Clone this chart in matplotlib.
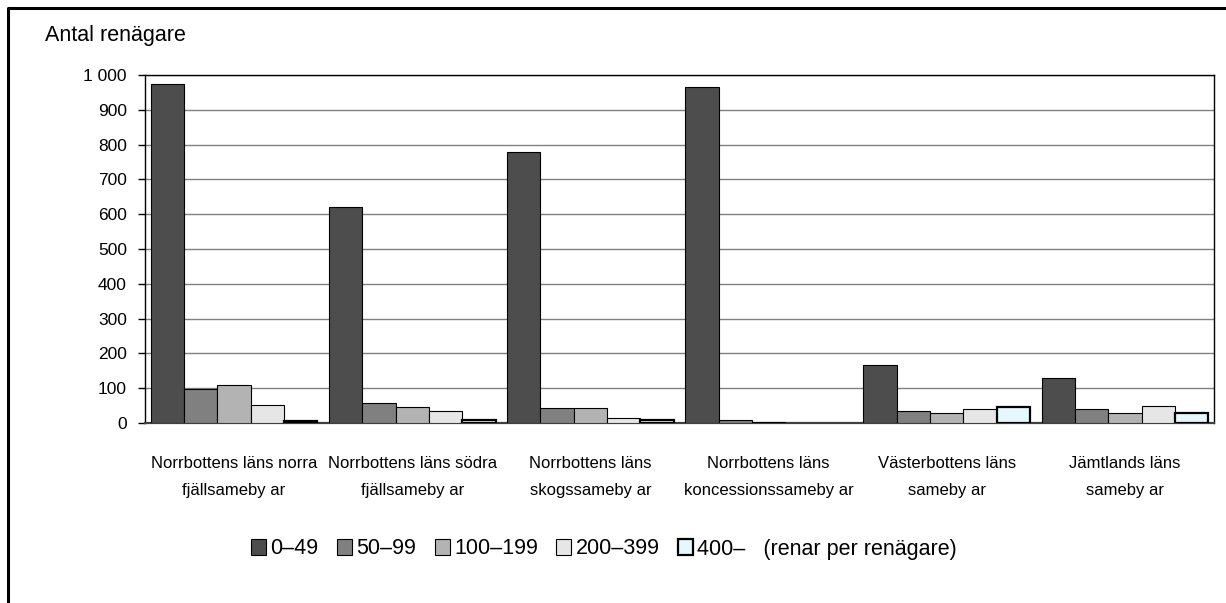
import matplotlib
matplotlib.use("Agg")
import matplotlib.pyplot as plt
from matplotlib.lines import Line2D
from matplotlib.patches import Patch
import numpy as np

# === Dati ===
categories = [
    "Norrbottens läns norra\nfjällsameby ar",
    "Norrbottens läns södra\nfjällsameby ar",
    "Norrbottens läns\nskogssameby ar",
    "Norrbottens läns\nkoncessionssameby ar",
    "Västerbottens läns\nsameby ar",
    "Jämtlands läns\nsameby ar",
]
series_labels = ["0–49", "50–99", "100–199", "200–399", "400–"]
v_0_49 = [975, 620, 780, 965, 166, 129]
v_50_99 = [99, 58, 42, 8, 34, 40]
v_100_199 = [110, 46, 42, 3, 30, 30]
v_200_399 = [52, 35, 15, 0, 40, 50]
v_400 = [5, 10, 10, 0, 45, 30]
values = [v_0_49, v_50_99, v_100_199, v_200_399, v_400]
yticks = list(range(0, 1001, 100))
ytick_labels = ["0", "100", "200", "300", "400", "500", "600", "700", "800", "900", "1 000"]

colors = ["#4d4d4d", "#808080", "#b3b3b3", "#e6e6e6", "#e3f9ff"]
edge_w = [0.8, 0.8, 0.8, 0.8, 1.6]

plt.rcParams['font.family'] = ['Liberation Sans', 'DejaVu Sans']

fig = plt.figure(figsize=(12.26, 6.03), dpi=100)
ax = fig.add_axes([145 / 1226, 1 - 423 / 603, (1214 - 145) / 1226, (423 - 75) / 603])

bw = 0.187
x = np.arange(len(categories)) + 0.5
for i, (vals, c, lw) in enumerate(zip(values, colors, edge_w)):
    lws = [lw if v > 0 else 0 for v in vals]
    ax.bar(x + (i - 2) * bw, vals, width=bw, color=c, edgecolor="black",
           linewidth=lws, label=series_labels[i], zorder=3)

ax.set_xlim(0, len(categories))
ax.set_ylim(0, 1000)
ax.set_yticks(yticks)
ax.set_yticklabels(ytick_labels, fontsize=12.5)
ax.yaxis.grid(True, color="#808080", linewidth=1, zorder=0)
ax.set_xticks(x)
ax.set_xticklabels(categories, fontsize=12, linespacing=2.0)
ax.tick_params(axis="x", length=0, pad=23.5)
ax.tick_params(axis="y", length=5, width=1, direction="out", pad=8)
for s in ["top", "right", "left"]:
    ax.spines[s].set_color("black")
    ax.spines[s].set_linewidth(1)
ax.spines["bottom"].set_color("#404040")
ax.spines["bottom"].set_linewidth(1.6)

fig.text(45 / 1226, 1 - 36 / 603, "Antal renägare", fontsize=15.5, va="center", ha="left")

# === Legenda ===
handles = [Patch(facecolor=c, edgecolor="black", linewidth=lw) for c, lw in zip(colors, edge_w)]
labels = series_labels[:-1] + [series_labels[-1] + "   (renar per renägare)"]
leg = fig.legend(handles, labels, loc="center", bbox_to_anchor=(604 / 1226, 1 - 549 / 603),
                 ncol=5, frameon=False, fontsize=15.5, handlelength=0.7, handleheight=0.7,
                 handletextpad=0.2, columnspacing=0.85)

# === Cornice ===
fig.add_artist(Line2D([8 / 1226, 8 / 1226, 1.0], [0.0, 1 - 8 / 603, 1 - 8 / 603],
                      color="black", linewidth=2.2, transform=fig.transFigure))

fig.savefig("out.png", dpi=100)
